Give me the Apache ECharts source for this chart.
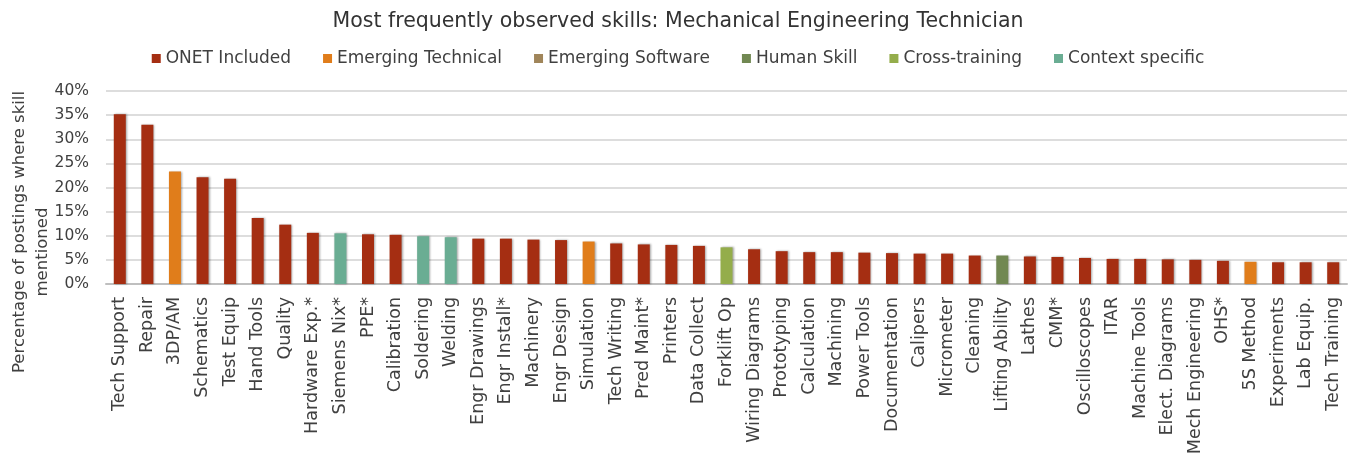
<!DOCTYPE html>
<html>
<head>
<meta charset="utf-8">
<script src="https://cdn.jsdelivr.net/npm/echarts@6/dist/echarts.min.js"></script>
<style>
  html, body { margin: 0; padding: 0; background: #fff; }
  #chart { width: 1356px; height: 454px; }
</style>
</head>
<body>
<div id="chart"></div>
<script>
    // skills (percent of postings)
    var skills = ['Tech Support', 'Repair', '3DP/AM', 'Schematics', 'Test Equip', 'Hand Tools', 'Quality',
        'Hardware Exp.*', 'Siemens Nix*', 'PPE*', 'Calibration', 'Soldering', 'Welding', 'Engr Drawings',
        'Engr Install*', 'Machinery', 'Engr Design', 'Simulation', 'Tech Writing', 'Pred Maint*', 'Printers',
        'Data Collect', 'Forklift Op', 'Wiring Diagrams', 'Prototyping', 'Calculation', 'Machining',
        'Power Tools', 'Documentation', 'Calipers', 'Micrometer', 'Cleaning', 'Lifting Ability', 'Lathes',
        'CMM*', 'Oscilloscopes', 'ITAR', 'Machine Tools', 'Elect. Diagrams', 'Mech Engineering', 'OHS*',
        '5S Method', 'Experiments', 'Lab Equip.', 'Tech Training'];

    var shares = [35.2, 33.0, 23.3, 22.1, 21.8, 13.7, 12.3, 10.6, 10.5, 10.3, 10.2, 9.9, 9.7, 9.4,
        9.4, 9.2, 9.1, 8.8, 8.4, 8.2, 8.1, 7.9, 7.6, 7.2, 6.8, 6.6, 6.6, 6.5, 6.4, 6.3, 6.3, 5.9, 5.9,
        5.7, 5.6, 5.4, 5.2, 5.2, 5.1, 5.0, 4.8, 4.6, 4.5, 4.5, 4.5];

    var groups = ['ONET Included', 'Emerging Technical', 'Emerging Software', 'Human Skill', 'Cross-training', 'Context specific'];

    // group of every skill, index into groups
    var skillGroup = [0, 0, 1, 0, 0, 0, 0, 0, 5, 0, 0, 5, 5, 0, 0, 0, 0, 1, 0, 0, 0, 0, 4, 0, 0, 0, 0,
        0, 0, 0, 0, 0, 3, 0, 0, 0, 0, 0, 0, 0, 0, 1, 0, 0, 0];

    var yTicks = [0, 5, 10, 15, 20, 25, 30, 35, 40];

    var groupColors = ['#a52e12', '#e07d1b', '#a0855a', '#718852', '#94ad4b', '#6aad93'];
    var FONT = 'DejaVu Sans';

    var chart = echarts.init(document.getElementById('chart'));

    var series = groups.map(function (g, gi) {
        return {
            name: g,
            type: 'bar',
            stack: 'all',
            barWidth: 12,
            itemStyle: {
                color: groupColors[gi],
                shadowColor: 'rgba(0,0,0,0.35)',
                shadowBlur: 2,
                shadowOffsetX: 1
            },
            data: shares.map(function (v, i) {
                return skillGroup[i] === gi ? v : '-';
            })
        };
    });

    chart.setOption({
        animation: false,
        textStyle: { fontFamily: FONT },
        title: {
            text: 'Most frequently observed skills: Mechanical Engineering Technician',
            left: 'center',
            top: 6,
            textStyle: { fontFamily: FONT, fontSize: 20.5, fontWeight: 'normal', color: '#333' }
        },
        legend: {
            top: 45,
            left: 'center',
            icon: 'rect',
            itemWidth: 9,
            itemHeight: 9,
            itemGap: 32,
            textStyle: { fontFamily: FONT, fontSize: 17, color: '#404040' },
            data: groups
        },
        grid: {
            left: 106,
            right: 9,
            top: 91,
            bottom: 170,
            outerBoundsMode: 'none'
        },
        graphic: [
            {
                type: 'text',
                x: 20,
                y: 232,
                rotation: Math.PI / 2,
                style: {
                    text: 'Percentage of postings where skill',
                    font: '16.5px "' + FONT + '"',
                    fill: '#404040',
                    align: 'center',
                    verticalAlign: 'middle'
                }
            },
            {
                type: 'text',
                x: 43,
                y: 252,
                rotation: Math.PI / 2,
                style: {
                    text: 'mentioned',
                    font: '16.5px "' + FONT + '"',
                    fill: '#404040',
                    align: 'center',
                    verticalAlign: 'middle'
                }
            }
        ],
        xAxis: {
            type: 'category',
            data: skills,
            axisTick: { show: false },
            axisLine: { lineStyle: { color: '#bfbfbf', width: 2 } },
            axisLabel: {
                interval: 0,
                rotate: 90,
                margin: 13,
                fontSize: 17.5,
                color: '#404040'
            }
        },
        yAxis: {
            type: 'value',
            min: yTicks[0],
            max: yTicks[yTicks.length - 1],
            interval: yTicks[1] - yTicks[0],
            axisLine: { show: false },
            axisTick: { show: false },
            splitLine: { lineStyle: { color: '#d2d2d2', width: 1.5 } },
            axisLabel: {
                formatter: '{value}%',
                margin: 17,
                fontSize: 15.5,
                color: '#404040'
            }
        },
        series: series
    });
</script>
</body>
</html>
